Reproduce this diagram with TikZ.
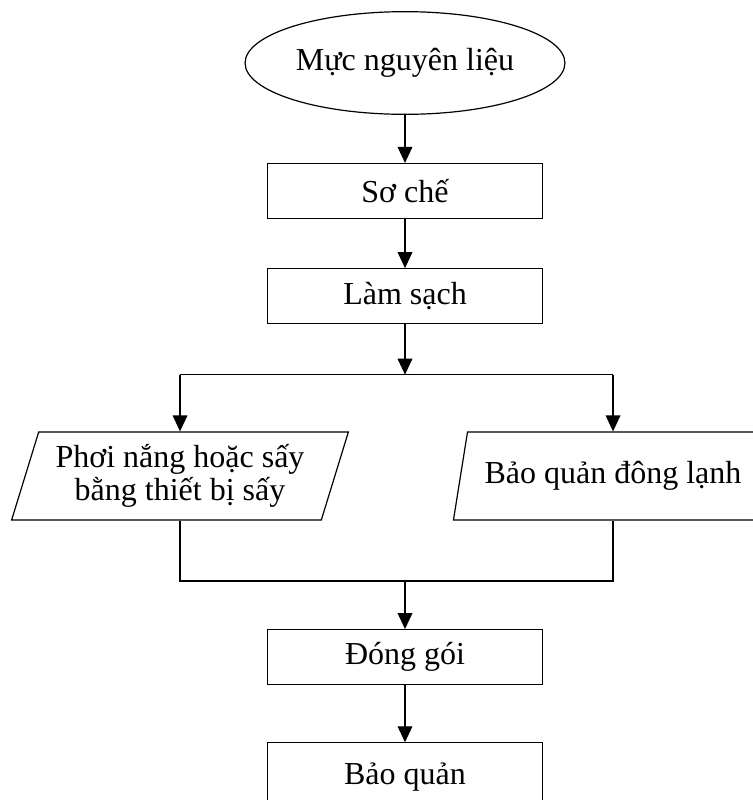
\documentclass[tikz,border=0pt]{standalone}
\usepackage{fontspec}
\setmainfont{Liberation Serif}
\usetikzlibrary{positioning,arrows.meta,shapes.geometric}

\begin{document}
\begin{tikzpicture}[
    x=0.75pt, y=-0.75pt,
    font=\fontsize{24}{25}\selectfont,
    base_box/.style={draw, line width=0.9pt, align=center, inner sep=3pt},
    start_oval/.style={base_box, ellipse, minimum width=220pt, minimum height=77pt},
    step_box/.style={base_box, rectangle, minimum width=206pt, minimum height=41pt},
    io_box/.style={base_box, trapezium, trapezium left angle=71, trapezium right angle=109,
                   trapezium stretches=true, minimum height=66pt},
    link/.style={line width=1pt},
    arrow/.style={link, -{Triangle[length=12pt, width=11pt]}}
]
\clip (0,0) rectangle (753,800);

\node (raw) [start_oval] at (405,63) {Mực nguyên liệu};
\node (prep) [step_box, below=36pt of raw] {Sơ chế};
\node (clean) [step_box, below=37pt of prep] {Làm sạch};
\coordinate [below=38pt of clean] (split);

\node (dry) [io_box, minimum width=253pt] at (180,476)
    {Phơi nắng hoặc sấy\\bằng thiết bị sấy};
\node (freeze) [io_box, minimum width=240pt] at (613,476) {Bảo quản đông lạnh};

\coordinate (join) at (405,581);
\node (pack) [step_box] at (405,657) {Đóng gói};
\node (store) [step_box, below=43pt of pack, minimum height=51pt] {Bảo quản};

\draw [arrow] (raw) -- (prep);
\draw [arrow] (prep) -- (clean);
\draw [arrow] (clean) -- (split);
\draw [link] (dry.north |- split) -- (freeze.north |- split);
\draw [arrow] (dry.north |- split) -- (dry.north);
\draw [arrow] (freeze.north |- split) -- (freeze.north);
\draw [link] (dry.south) |- (join) -| (freeze.south);
\draw [arrow] (join) -- (pack);
\draw [arrow] (pack) -- (store);

\end{tikzpicture}
\end{document}
